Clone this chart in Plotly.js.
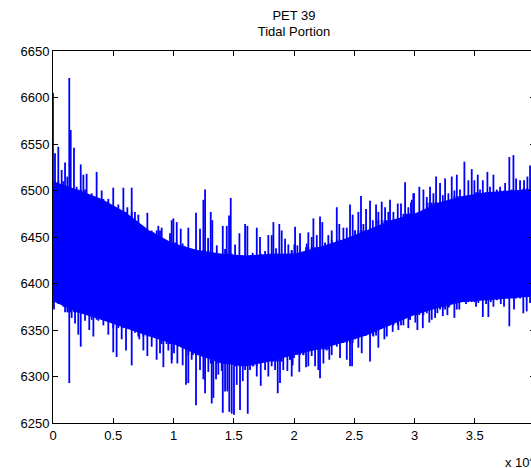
<!DOCTYPE html>
<html>
<head>
<meta charset="utf-8">
<script src="https://cdn.plot.ly/plotly-3.0.1.min.js"></script>
<style>
  html, body { margin: 0; padding: 0; overflow: hidden; background: #fff; }
  #chart { width: 560px; height: 468px; }
</style>
</head>
<body>
<div id="chart"></div>
<script>
// Sample index of upper excursions and their values
const hiIdx = [
  0,166,440,720,1000,1190,1350,1470,1740,1960,2300,2520,2790,3210,3620,4040,4590,5000,5420,5840,6170,6530,6890,7080,7500,7830,8330,8740,9020,9430,9990,
  9710,9850,10130,10270,10490,10600,10960,11230,11600,11870,12060,12200,12480,12620,12870,13090,13220,13590,14090,14280,14420,14610,14750,15110,15470,15660,15940,16130,16570,16910,17180,17600,17870,18150,18290,18510,18780,18980,19260,19530,19810,20030,
  19810,20090,20280,20500,20780,21060,21190,21470,21610,21890,22160,22350,22580,22850,23130,23550,23760,24100,24380,24650,24870,25070,25340,25560,25760,25980,26310,26540,26810,27000,27280,27560,27830,27970,28250,28610,28880,29220,29490,29770,29960,
  29710,29900,30190,30400,30740,31020,31290,31570,31790,32120,32350,32540,32810,33090,33310,33510,33780,34140,34470,34750,34970,35250,35440,35670,36050,36270,36550,36830,37100,37520,37870,38070,38210,38430,38760,39090,39370,39590
];
const hiVal = [
  6605,6540,6547,6522,6530,6515,6621,6565,6546,6504,6528,6517,6518,6497,6520,6500,6488,6503,6485,6503,6482,6503,6465,6474,6458,6476,6455,6462,6460,6445,6470,
  6454,6468,6444,6466,6440,6459,6440,6460,6437,6476,6435,6459,6490,6501,6449,6477,6468,6441,6462,6437,6462,6473,6492,6442,6454,6430,6464,6462,6433,6460,6450,6435,6452,6452,6466,6438,6464,6457,6448,6442,6435,6442,
  6436,6461,6441,6454,6430,6443,6455,6450,6470,6452,6472,6466,6444,6452,6457,6482,6464,6460,6460,6485,6474,6457,6477,6494,6464,6480,6489,6468,6485,6477,6488,6482,6477,6490,6477,6486,6486,6509,6482,6490,6497,
  6487,6497,6476,6504,6501,6493,6504,6497,6515,6508,6495,6513,6497,6515,6500,6517,6501,6531,6511,6523,6511,6517,6501,6511,6520,6504,6517,6501,6504,6508,6536,6501,6538,6513,6511,6511,6515,6527
];
// Sample index of lower excursions and their values
const loIdx = [
  80,440,860,1130,1350,1550,1830,2100,2300,2660,3010,3350,3760,4180,4590,5000,5280,5700,6060,6530,6800,7160,7500,7830,8190,8600,8880,9160,9570,9850,10040,
  9850,10320,10760,11040,11230,11510,11870,12200,12480,12620,12890,13170,13310,13530,13720,14000,14090,14280,14470,14630,14830,15020,15250,15520,15750,15940,16160,16350,16630,16910,17240,17600,17870,18150,18430,18650,18840,19110,19450,19670,19890,20000,
  19670,19810,20090,20440,20780,21000,21190,21470,21750,22020,22160,22440,22720,22930,23130,23550,23820,24100,24380,24650,24820,25070,25340,25620,25900,26310,26590,26810,27000,27280,27500,27700,27970,28190,28390,28660,29080,29360,29490,29630,29960,
  29630,29900,30070,30240,30690,31020,31230,31430,31710,31900,32120,32350,32540,32730,32890,33310,33510,33720,34060,34280,34470,34890,35110,35300,35670,35940,36130,36330,36550,36880,37160,37430,37870,38260,38700,39030,39310,39590
];
const loVal = [
  6372,6378,6375,6378,6293,6363,6357,6345,6332,6360,6350,6343,6360,6355,6345,6326,6321,6340,6328,6312,6347,6340,6328,6322,6332,6318,6325,6310,6328,6314,6325,
  6318,6314,6312,6291,6293,6318,6269,6307,6297,6282,6305,6271,6277,6297,6302,6306,6261,6284,6284,6262,6260,6259,6291,6264,6295,6307,6260,6307,6311,6300,6290,6307,6300,6311,6307,6282,6293,6307,6306,6318,6312,6320,
  6318,6300,6325,6305,6323,6310,6311,6322,6311,6307,6298,6314,6328,6318,6323,6332,6320,6345,6318,6311,6311,6340,6331,6325,6347,6316,6343,6347,6331,6352,6340,6343,6357,6348,6361,6350,6355,6368,6352,6361,6368,
  6361,6368,6358,6350,6352,6368,6358,6361,6363,6368,6372,6365,6372,6366,6375,6363,6372,6372,6386,6378,6381,6383,6375,6379,6364,6378,6364,6380,6375,6384,6378,6375,6354,6372,6390,6368,6370,6379
];
// Dense core of the signal band (upper / lower edge of the solid region)
const coreIdx = [0,2000,4000,6000,8000,10000,12000,14000,16000,18000,20000,22000,24000,26000,28000,30000,32000,34000,36000,38000,40000];
const coreHi  = [6510,6501,6491,6477,6457,6443,6436,6432,6430,6432,6432,6439,6447,6457,6468,6475,6487,6494,6498,6500,6502];
const coreLo  = [6381,6369,6361,6352,6343,6335,6323,6314,6311,6316,6323,6329,6336,6344,6355,6366,6374,6380,6382,6384,6386];

const tickVals = [0,5000,10000,15000,20000,25000,30000,35000];
const tickText = ['0','0.5','1','1.5','2','2.5','3','3.5'];
const yTicks = [6250,6300,6350,6400,6450,6500,6550,6600,6650];

// Vertical excursions: each spike runs from inside the band out to its read value
const coreStep = coreIdx[1] - coreIdx[0];
const sx = [], sy = [];
for (let i = 0; i < hiIdx.length; i++) {
  const k = Math.min(coreIdx.length - 1, Math.round(hiIdx[i] / coreStep));
  sx.push(hiIdx[i], hiIdx[i], null); sy.push(coreLo[k], hiVal[i], null);
}
for (let i = 0; i < loIdx.length; i++) {
  const k = Math.min(coreIdx.length - 1, Math.round(loIdx[i] / coreStep));
  sx.push(loIdx[i], loIdx[i], null); sy.push(coreHi[k], loVal[i], null);
}
const bandX = coreIdx.concat(coreIdx.slice().reverse());
const bandY = coreHi.concat(coreLo.slice().reverse());

const BLUE = '#0000ff';
const traces = [
  { x: bandX, y: bandY, type: 'scatter', mode: 'lines', fill: 'toself',
    fillcolor: BLUE, line: { color: BLUE, width: 0 }, hoverinfo: 'skip', showlegend: false },
  { x: sx, y: sy, type: 'scatter', mode: 'lines', connectgaps: false,
    line: { color: BLUE, width: 1.8 }, showlegend: false }
];

const font = { family: 'Liberation Sans, Arial, sans-serif', size: 13, color: '#000' };
const layout = {
  width: 560, height: 468,
  margin: { l: 53, r: 25, t: 51, b: 45 },
  paper_bgcolor: '#fff', plot_bgcolor: '#fff',
  font: font,
  showlegend: false,
  title: { text: 'PET 39<br>Tidal Portion', font: font,
           x: 0.5, xref: 'paper', xanchor: 'center',
           y: 1 - 19.5/468, yref: 'container', yanchor: 'middle' },
  xaxis: { range: [0, 40000], tickmode: 'array', tickvals: tickVals, ticktext: tickText,
           ticks: 'inside', ticklen: 5, tickcolor: '#000', tickwidth: 1,
           showline: true, linecolor: '#000', linewidth: 1, mirror: 'ticks',
           showgrid: false, zeroline: false, tickfont: font },
  yaxis: { range: [6250, 6650], tickmode: 'array', tickvals: yTicks,
           ticks: 'inside', ticklen: 5, tickcolor: '#000', tickwidth: 1,
           showline: true, linecolor: '#000', linewidth: 1, mirror: 'ticks',
           showgrid: false, zeroline: false, tickfont: font },
  annotations: [
    { text: 'x 10<sup>4</sup>', xref: 'paper', yref: 'paper', x: (503-53)/482, y: (423-462)/372,
      xanchor: 'left', yanchor: 'middle', showarrow: false, font: font }
  ]
};
Plotly.newPlot('chart', traces, layout, { staticPlot: true, displayModeBar: false });
</script>
</body>
</html>
